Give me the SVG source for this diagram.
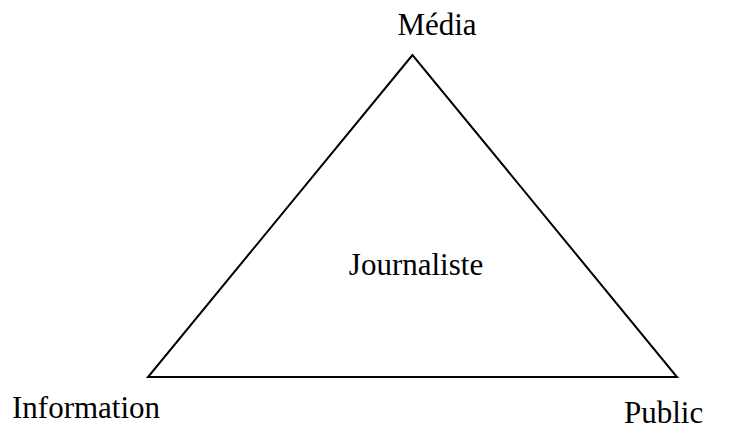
<svg xmlns="http://www.w3.org/2000/svg" width="736" height="429" viewBox="0 0 736 429">
<style>
.t{font-family:"Liberation Serif","Times New Roman",serif;font-size:31px;fill:#000}
.e{fill:none;stroke:#000;stroke-width:2}
</style>
<rect width="736" height="429" fill="#fff"/>
<g id="connectors">
<polygon class="e" points="412.5,55 148,377 677,377"/>
</g>
<g id="media"><text class="t" x="437" y="35" text-anchor="middle">Média</text></g>
<g id="journaliste"><text class="t" x="416" y="275" text-anchor="middle">Journaliste</text></g>
<g id="information"><text class="t" x="12" y="418">Information</text></g>
<g id="public"><text class="t" x="624" y="423">Public</text></g>
</svg>
